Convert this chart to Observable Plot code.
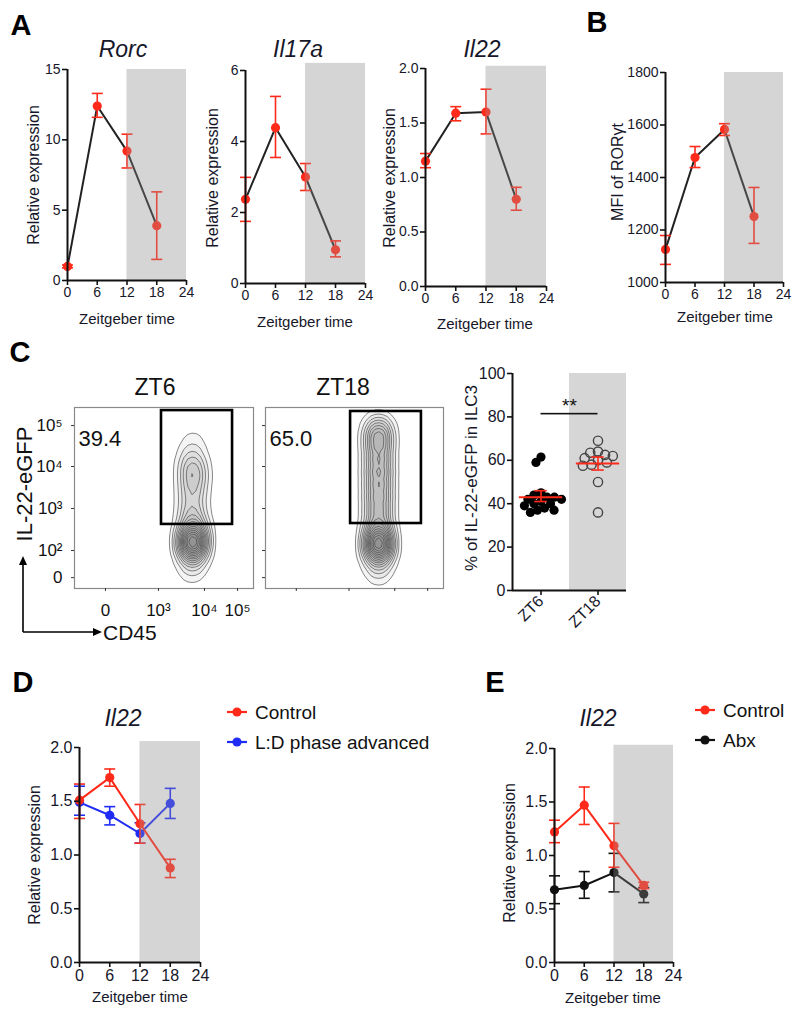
<!DOCTYPE html>
<html><head><meta charset="utf-8">
<script src="https://cdn.jsdelivr.net/npm/d3@7"></script>
<script src="https://cdn.jsdelivr.net/npm/@observablehq/plot@0.6"></script>
<style>
body{margin:0;background:#fff;}
#fig{position:relative;width:800px;height:1009px;font-family:"Liberation Sans",Arial,sans-serif;overflow:hidden;background:#fff;}
.t{position:absolute;white-space:nowrap;line-height:1;}
</style></head><body><div id="fig"></div>
<script>
// ---------------- data ----------------
const zt = [0, 6, 12, 18];
// Panel A
const rorcMean = [1.0, 12.4, 9.2, 3.9];
const rorcLo   = [0.9, 11.6, 8.0, 1.5];
const rorcHi   = [1.1, 13.3, 10.4, 6.3];
const il17aMean = [2.37, 4.39, 3.0, 0.95];
const il17aLo   = [1.75, 3.55, 2.62, 0.75];
const il17aHi   = [2.99, 5.27, 3.38, 1.2];
const il22Mean = [1.15, 1.59, 1.6, 0.8];
const il22Lo   = [1.09, 1.52, 1.4, 0.7];
const il22Hi   = [1.22, 1.65, 1.81, 0.91];
// Panel B
const rorgtMean = [1126, 1476, 1583, 1251];
const rorgtLo   = [1069, 1438, 1560, 1149];
const rorgtHi   = [1179, 1518, 1605, 1362];
// Panel C (scatter)
const ztGroups = ["ZT6", "ZT18"];
const zt6Pct  = [61.5, 59, 45, 44, 43, 43, 42, 42, 41, 40, 40, 39, 38, 37, 37, 36];
const zt18Pct = [69, 64, 63.5, 62.5, 62, 61, 60, 59, 58, 57.5, 50, 36];
const pctMean = [43, 58.5];
const pctLo   = [41, 55.5];
const pctHi   = [46, 61.5];
const sigLevel = 81.5;
// Panel C (flow): channel units 0-1000
const flowYTicks  = [60, 210, 442, 674, 900];
const flowYLabels = ["0", "10²", "10³", "10⁴", "10⁵"];
const flowXTicks  = [173, 469, 726, 911];
const flowXLabels = ["0", "10³", "10⁴", "10⁵"];
const zt6CellX = [660, 645, 675, 660, 660, 655, 665, 660, 655, 660, 660, 665, 660, 655, 665, 660];
const zt6CellY = [275, 235, 235, 190, 130, 70, 330, 390, 450, 510, 570, 630, 680, 740, 800, 860];
const zt6CellW = [10, 5, 5, 4, 2.5, 1.2, 6, 3.5, 3, 3, 3.5, 4, 3.5, 2, 1.2, 0.6];
const zt18CellX = [635, 620, 650, 635, 635, 635, 635, 635, 635, 635, 635, 635, 635, 635, 635, 635];
const zt18CellY = [265, 225, 225, 180, 120, 65, 330, 400, 470, 540, 610, 680, 750, 820, 870, 920];
const zt18CellW = [8, 4, 4, 3, 2, 1, 5, 4, 4.5, 4.5, 4.5, 4.5, 4.5, 5, 4, 1.5];
const zt6Gate  = [486, 883, 354, 983];
const zt18Gate = [478, 876, 359, 978];
const gatePct = ["39.4", "65.0"];
// Panel D
const dCtrlMean = [1.51, 1.72, 1.29, 0.88];
const dCtrlLo   = [1.34, 1.64, 1.11, 0.79];
const dCtrlHi   = [1.66, 1.80, 1.47, 0.96];
const dShiftMean = [1.49, 1.37, 1.20, 1.48];
const dShiftLo   = [1.37, 1.28, 1.11, 1.34];
const dShiftHi   = [1.64, 1.45, 1.30, 1.62];
// Panel E
const eCtrlMean = [1.22, 1.47, 1.09, 0.72];
const eCtrlLo   = [1.12, 1.29, 0.89, 0.69];
const eCtrlHi   = [1.33, 1.64, 1.30, 0.75];
const eAbxMean = [0.68, 0.72, 0.84, 0.64];
const eAbxLo   = [0.55, 0.60, 0.66, 0.56];
const eAbxHi   = [0.81, 0.85, 1.02, 0.70];

// ---------------- helpers ----------------
const fig = document.getElementById("fig");
const FONT = '"Liberation Sans", Arial, sans-serif';
const INK = "#17172a";
const RED = "#ff2a1a";
const BLUE = "#1f2cf5";
const BLACK = "#111";
const capSymbol = {draw(ctx, size) { const r = Math.sqrt(size / Math.PI); ctx.moveTo(-r, 0); ctx.lineTo(r, 0); }};
// fixed-size circle (radius 4.6px) so that dodge packing can use a smaller radius (overlapping points)
const ringSymbol = {draw(ctx) { ctx.moveTo(4.6, 0); ctx.arc(0, 0, 4.6, 0, 2 * Math.PI); ctx.closePath(); }};

function place(el, left, top) {
  el.style.position = "absolute"; el.style.left = left + "px"; el.style.top = top + "px";
  fig.appendChild(el);
}
function txt(s, x, y, o = {}) {
  const d = document.createElement("div");
  d.className = "t";
  d.textContent = s;
  d.style.fontSize = (o.size || 15) + "px";
  d.style.fontWeight = o.weight || "normal";
  d.style.fontStyle = o.style || "normal";
  d.style.color = o.color || INK;
  d.style.left = x + "px"; d.style.top = y + "px";
  const tx = o.anchor === "start" ? "0" : o.anchor === "end" ? "-100%" : "-50%";
  d.style.transform = `translate(${tx},-50%) rotate(${o.rotate || 0}deg)`;
  fig.appendChild(d);
}

function linePanel(p) {
  const mL = 50, mR = 12, mT = 14, mB = 40;
  const W = mL + (p.x24 - p.axisX) + mR;
  const H = mT + (p.yBot - p.yTop) + mB;
  const [y0, y1] = p.yDomain;
  const shade = [{a: 12, b: 24, lo: y0, hi: p.shadeTop}];
  const marks = [Plot.rect(shade, {x1: "a", x2: "b", y1: "lo", y2: "hi", fill: "#ececec"})];
  for (const s of p.series) {
    const rows = zt.map((t, i) => ({t, m: s.mean[i], lo: s.lo[i], hi: s.hi[i]}));
    marks.push(
      Plot.line(rows, {x: "t", y: "m", stroke: s.line, strokeWidth: 2}),
      Plot.ruleX(rows, {x: "t", y1: "lo", y2: "hi", stroke: s.color, strokeWidth: 1.6}),
      Plot.dot(rows, {x: "t", y: "lo", symbol: capSymbol, r: 5.5, fill: "none", stroke: s.color, strokeWidth: 1.6}),
      Plot.dot(rows, {x: "t", y: "hi", symbol: capSymbol, r: 5.5, fill: "none", stroke: s.color, strokeWidth: 1.6}),
      Plot.dot(rows, {x: "t", y: "m", r: 4.6, fill: s.color, stroke: "none"})
    );
  }
  marks.push(
    Plot.rect(shade, {x1: "a", x2: "b", y1: "lo", y2: "hi", fill: "#a0a0a0", fillOpacity: 0.3}),
    Plot.ruleX([0], {y1: y0, y2: y1, stroke: BLACK, strokeWidth: 2}),
    Plot.ruleY([y0], {x1: 0, x2: 24, stroke: BLACK, strokeWidth: 2}),
    Plot.axisX({ticks: [0, 6, 12, 18, 24], tickSize: 5, tickPadding: 2, fontSize: p.fs, label: null, stroke: BLACK, fill: INK, strokeWidth: 1.6}),
    Plot.axisY({ticks: p.yTicks, tickSize: 5, tickPadding: 2, fontSize: p.fs, label: null, stroke: BLACK, fill: INK, strokeWidth: 1.6, tickFormat: p.tickFormat})
  );
  const el = Plot.plot({
    width: W, height: H, marginLeft: mL, marginRight: mR, marginTop: mT, marginBottom: mB,
    x: {domain: [0, 24], axis: null}, y: {domain: p.yDomain, axis: null},
    style: {fontFamily: FONT, background: "transparent", overflow: "visible", color: INK},
    marks
  });
  place(el, p.axisX - mL, p.yTop - mT);
}
const f1 = d3.format(".1f");
const fInt = d => String(d);

// ---------------- Panel A ----------------
txt("A", 21, 25, {size: 29, weight: "bold", color: "#000"});
linePanel({axisX: 67, x24: 186, yTop: 69, yBot: 280, yDomain: [0, 15], yTicks: [0, 5, 10, 15], tickFormat: fInt, shadeTop: 15, fs: 14,
  series: [{mean: rorcMean, lo: rorcLo, hi: rorcHi, color: RED, line: "#222"}]});
linePanel({axisX: 245, x24: 365, yTop: 70, yBot: 283, yDomain: [0, 6], yTicks: [0, 2, 4, 6], tickFormat: fInt, shadeTop: 6.2, fs: 14,
  series: [{mean: il17aMean, lo: il17aLo, hi: il17aHi, color: RED, line: "#222"}]});
linePanel({axisX: 425, x24: 546, yTop: 68, yBot: 286, yDomain: [0, 2], yTicks: [0, 0.5, 1, 1.5, 2], tickFormat: f1, shadeTop: 2.02, fs: 14,
  series: [{mean: il22Mean, lo: il22Lo, hi: il22Hi, color: RED, line: "#222"}]});
txt("Rorc", 123, 49, {size: 23, style: "italic"});
txt("Il17a", 298, 49, {size: 23, style: "italic"});
txt("Il22", 482, 49, {size: 23, style: "italic"});
txt("Relative expression", 34, 175, {size: 16, rotate: -90});
txt("Relative expression", 213, 178, {size: 16, rotate: -90});
txt("Relative expression", 390, 178, {size: 16, rotate: -90});
txt("Zeitgeber time", 127, 318, {size: 15});
txt("Zeitgeber time", 305, 321, {size: 15});
txt("Zeitgeber time", 485, 323, {size: 15});

// ---------------- Panel B ----------------
txt("B", 597, 22, {size: 29, weight: "bold", color: "#000"});
linePanel({axisX: 665, x24: 783, yTop: 72, yBot: 282, yDomain: [1000, 1800], yTicks: [1000, 1200, 1400, 1600, 1800], tickFormat: fInt, shadeTop: 1800, fs: 14,
  series: [{mean: rorgtMean, lo: rorgtLo, hi: rorgtHi, color: RED, line: "#222"}]});
txt("MFI of RORγt", 618, 172, {size: 16, rotate: -90});
txt("Zeitgeber time", 725, 316, {size: 15});

// ---------------- Panel C: flow plots ----------------
txt("C", 20, 352, {size: 29, weight: "bold", color: "#000"});
function flowPanel(p) {
  const mL = p.labels ? 50 : 14, mR = 4, mT = 4, mB = 34;
  const fw = p.right - p.left, fh = 588 - 407;
  const cells = p.cx.map((x, i) => ({x, y: p.cy[i], w: p.cw[i]}));
  const yMap = new Map(flowYTicks.map((v, i) => [v, flowYLabels[i]]));
  const xMap = new Map(flowXTicks.map((v, i) => [v, flowXLabels[i]]));
  const marks = [
    Plot.density(cells, {x: "x", y: "y", weight: "w", bandwidth: 8, thresholds: 16, fill: "#6a6a6a", fillOpacity: 0.07, stroke: "none"}),
    Plot.density(cells, {x: "x", y: "y", weight: "w", bandwidth: 8, thresholds: 16, stroke: "#444", strokeWidth: 0.8, strokeOpacity: 0.8}),
    Plot.frame({stroke: "#8a8a8a", strokeWidth: 1.2}),
    Plot.rect([p.gate], {x1: d => d[0], x2: d => d[1], y1: d => d[2], y2: d => d[3], fill: "none", stroke: "#000", strokeWidth: 2.6}),
    Plot.text([p.pct], {frameAnchor: "top-left", dx: 4, dy: 23, text: d => d, fontSize: 22, textAnchor: "start", fill: "#111"}),
    Plot.axisY({ticks: flowYTicks, tickSize: 3, tickPadding: 9, fontSize: 17, label: null, stroke: "#333", fill: "#111",
      tickFormat: p.labels ? (d => yMap.get(d)) : (() => "")}),
    Plot.axisX({ticks: flowXTicks, tickSize: 3, tickPadding: 12, fontSize: 17, label: null, stroke: "#333", fill: "#111",
      tickFormat: p.labels ? (d => xMap.get(d)) : (() => "")})
  ];
  const el = Plot.plot({
    width: mL + fw + mR, height: mT + fh + mB, marginLeft: mL, marginRight: mR, marginTop: mT, marginBottom: mB,
    x: {domain: [0, 1000], axis: null}, y: {domain: [0, 1000], axis: null},
    style: {fontFamily: FONT, background: "transparent", overflow: "visible"},
    marks
  });
  place(el, p.left - mL, 407 - mT);
}
flowPanel({left: 74, right: 253, cx: zt6CellX, cy: zt6CellY, cw: zt6CellW, gate: zt6Gate, pct: gatePct[0], labels: true});
flowPanel({left: 265, right: 443, cx: zt18CellX, cy: zt18CellY, cw: zt18CellW, gate: zt18Gate, pct: gatePct[1], labels: false});
txt("ZT6", 155, 387, {size: 23, color: "#111"});
txt("ZT18", 343, 387, {size: 23, color: "#111"});
txt("IL-22-eGFP", 25, 484, {size: 22, rotate: -90, color: "#111"});
txt("CD45", 103, 632, {size: 21, anchor: "start", color: "#111"});
(function arrows() {
  const ns = "http://www.w3.org/2000/svg";
  const s = document.createElementNS(ns, "svg");
  s.setAttribute("width", 110); s.setAttribute("height", 90);
  s.innerHTML = '<path d="M23,76 V8 M23,76 H94" stroke="#000" stroke-width="1.6" fill="none"/>' +
    '<path d="M23,0 L19,9 L27,9 Z" fill="#000"/><path d="M102,76 L93,72 L93,80 Z" fill="#000"/>';
  place(s, 0, 556);
})();

// ---------------- Panel C: scatter ----------------
(function scatter() {
  const mL = 45, mR = 4, mT = 6, mB = 50;
  const pts = [...zt6Pct.map(v => ({cat: "ZT6", v})), ...zt18Pct.map(v => ({cat: "ZT18", v}))];
  const stats = ztGroups.map((cat, i) => ({cat, m: pctMean[i], lo: pctLo[i], hi: pctHi[i]}));
  const el = Plot.plot({
    width: mL + 114 + mR, height: mT + 217 + mB, marginLeft: mL, marginRight: mR, marginTop: mT, marginBottom: mB,
    x: {domain: [0, 1], axis: null}, y: {domain: [0, 100], axis: null},
    fx: {domain: ztGroups, padding: 0, axis: null},
    style: {fontFamily: FONT, background: "transparent", overflow: "visible"},
    marks: [
      Plot.rect([{cat: "ZT18"}], {fx: "cat", x1: 0, x2: 1, y1: 0, y2: 100, fill: "#d6d6d6"}),
      Plot.dot(pts.filter(d => d.cat === "ZT6"), Plot.dodgeX("middle", {fx: "cat", y: "v", r: 3.2, padding: 0, symbol: ringSymbol, fill: "#000", stroke: "none"})),
      Plot.dot(pts.filter(d => d.cat === "ZT18"), Plot.dodgeX("middle", {fx: "cat", y: "v", r: 3.4, padding: 0, symbol: ringSymbol, fill: "none", stroke: "#444", strokeWidth: 1.4})),
      Plot.ruleY(stats, {fx: "cat", y: "m", x1: 0.12, x2: 0.88, stroke: RED, strokeWidth: 2}),
      Plot.ruleX(stats, {fx: "cat", x: 0.5, y1: "lo", y2: "hi", stroke: RED, strokeWidth: 1.6}),
      Plot.ruleY(stats, {fx: "cat", y: "lo", x1: 0.39, x2: 0.61, stroke: RED, strokeWidth: 1.6}),
      Plot.ruleY(stats, {fx: "cat", y: "hi", x1: 0.39, x2: 0.61, stroke: RED, strokeWidth: 1.6}),
      Plot.ruleY([{cat: "ZT6", y: sigLevel}], {fx: "cat", y: "y", x1: 0.5, x2: 1, stroke: "#111", strokeWidth: 1.6}),
      Plot.ruleY([{cat: "ZT18", y: sigLevel}], {fx: "cat", y: "y", x1: 0, x2: 0.5, stroke: "#111", strokeWidth: 1.6}),
      Plot.text([{cat: "ZT6", y: sigLevel}], {fx: "cat", x: 1, y: "y", dy: -8, text: () => "**", fontSize: 19, fill: "#111"}),
      Plot.ruleX([{cat: "ZT6"}], {fx: "cat", x: 0, y1: 0, y2: 100, stroke: BLACK, strokeWidth: 2}),
      Plot.ruleY([0], {stroke: BLACK, strokeWidth: 2}),
      Plot.axisY({ticks: [0, 20, 40, 60, 80, 100], tickSize: 5, tickPadding: 2, fontSize: 16, label: null, stroke: BLACK, fill: INK, strokeWidth: 1.6}),
      Plot.axisFx({anchor: "bottom", tickRotate: -45, tickSize: 5, tickPadding: 3, fontSize: 16, label: null, stroke: BLACK, fill: INK, strokeWidth: 1.6})
    ]
  });
  place(el, 512 - mL, 373 - mT);
})();
txt("% of IL-22-eGFP in ILC3", 471, 478, {size: 17, rotate: -90});

// ---------------- Panel D ----------------
txt("D", 23, 682, {size: 29, weight: "bold", color: "#000"});
linePanel({axisX: 79, x24: 200, yTop: 747, yBot: 962, yDomain: [0, 2], yTicks: [0, 0.5, 1, 1.5, 2], tickFormat: f1, shadeTop: 2.055, fs: 16,
  series: [
    {mean: dShiftMean, lo: dShiftLo, hi: dShiftHi, color: BLUE, line: BLUE},
    {mean: dCtrlMean, lo: dCtrlLo, hi: dCtrlHi, color: RED, line: RED}
  ]});
txt("Il22", 123, 718, {size: 23, style: "italic"});
txt("Relative expression", 35, 855, {size: 16, rotate: -90});
txt("Zeitgeber time", 140, 996, {size: 15});

// ---------------- Panel E ----------------
txt("E", 495, 682, {size: 29, weight: "bold", color: "#000"});
linePanel({axisX: 554, x24: 673, yTop: 748, yBot: 962, yDomain: [0, 2], yTicks: [0, 0.5, 1, 1.5, 2], tickFormat: f1, shadeTop: 2.03, fs: 16,
  series: [
    {mean: eAbxMean, lo: eAbxLo, hi: eAbxHi, color: BLACK, line: BLACK},
    {mean: eCtrlMean, lo: eCtrlLo, hi: eCtrlHi, color: RED, line: RED}
  ]});
txt("Il22", 598, 718, {size: 23, style: "italic"});
txt("Relative expression", 510, 853, {size: 16, rotate: -90});
txt("Zeitgeber time", 613, 997, {size: 15});

// ---------------- legends ----------------
function legendRow(color, label, x, y) {
  const ns = "http://www.w3.org/2000/svg";
  const s = document.createElementNS(ns, "svg");
  s.setAttribute("width", 24); s.setAttribute("height", 12);
  s.innerHTML = `<line x1="2" y1="6" x2="22" y2="6" stroke="${color}" stroke-width="2.2"/><circle cx="12" cy="6" r="4.6" fill="${color}"/>`;
  place(s, x - 2, y - 6);
  txt(label, x + 28, y, {size: 19, anchor: "start", color: "#111"});
}
legendRow(RED, "Control", 227, 712);
legendRow(BLUE, "L:D phase advanced", 227, 742);
legendRow(RED, "Control", 695, 710);
legendRow(BLACK, "Abx", 695, 740);
</script></body></html>
